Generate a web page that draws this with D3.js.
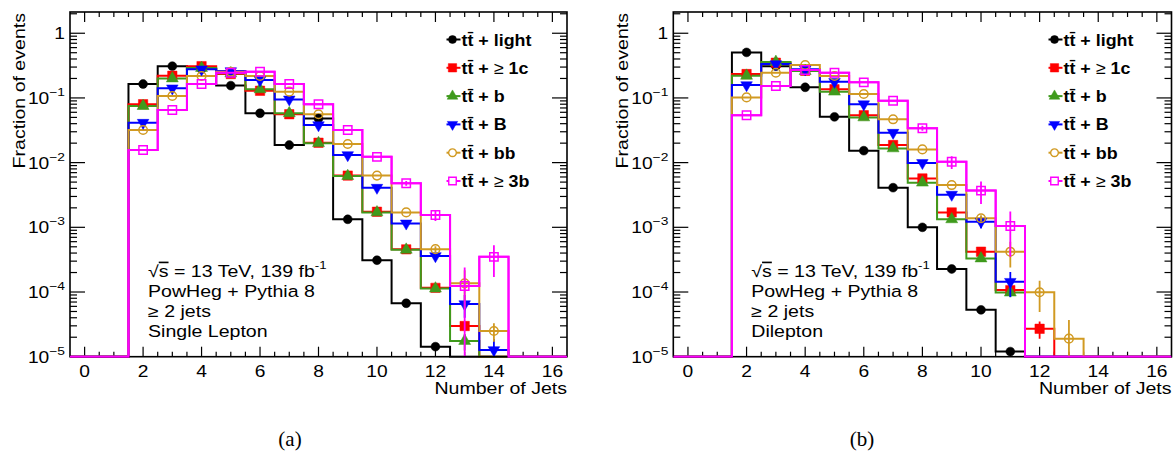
<!DOCTYPE html>
<html>
<head>
<meta charset="utf-8">
<script src="https://cdn.jsdelivr.net/npm/d3@7"></script>
<style>
  body { margin: 0; background: #fff; }
  svg { display: block; }
  text { font-family: "Liberation Sans", Arial, Helvetica, sans-serif; fill: #000; }
  text.caption { font-family: "Liberation Serif", "DejaVu Serif", serif; }
</style>
</head>
<body>
<svg id="chart" width="1176" height="452"></svg>
<script>
// ---- data: fraction of events per jet multiplicity ----
const nJets = [2, 3, 4, 5, 6, 7, 8, 9, 10, 11, 12, 13, 14];
const seriesKeys = ["light", "c", "b", "B", "bb", "3b"];
const legendLabels = ["light", "≥ 1c", "b", "B", "bb", "≥ 3b"];
const xTickValues = [0, 2, 4, 6, 8, 10, 12, 14, 16];
const yTickExponents = [0, -1, -2, -3, -4, -5];

// Single lepton channel
const slLight = [0.164, 0.31, 0.28, 0.155, 0.058, 0.0187, 0.048, 0.00133, 3.1e-4, 6.7e-5, 1.43e-5, 0, 0];
const slC     = [0.080, 0.22, 0.31, 0.234, 0.129, 0.056, 0.0203, 0.0063, 0.00174, 4.57e-4, 1.16e-4, 2.98e-5, 0];
const slB     = [0.075, 0.20, 0.29, 0.24, 0.136, 0.058, 0.0200, 0.0062, 0.0017, 4.5e-4, 1.13e-4, 1.75e-5, 0];
const slBig   = [0.0414, 0.141, 0.277, 0.26, 0.189, 0.095, 0.038, 0.0131, 0.0041, 0.00115, 3.6e-4, 6.5e-5, 1.27e-5];
const slBB    = [0.032, 0.107, 0.218, 0.254, 0.218, 0.125, 0.056, 0.0194, 0.0063, 0.0017, 4.6e-4, 1.36e-4, 2.5e-5];
const sl3b    = [0.0157, 0.065, 0.164, 0.245, 0.254, 0.164, 0.080, 0.032, 0.0123, 0.0048, 0.00155, 1.24e-4, 3.5e-4];
// statistical uncertainties (single lepton)
const slLightErr = [0, 0, 0, 0, 0, 0, 0, 0, 0, 0, 0, 0, 0];
const slCErr     = [0, 0, 0, 0, 0, 0, 0, 0, 0, 0, 0, 4e-6, 0];
const slBErr     = [0, 0, 0, 0, 0, 0, 0, 0, 0, 0, 0, 5e-6, 0];
const slBigErr   = [0, 0, 0, 0, 0, 0, 0, 0, 0, 0, 1.5e-5, 2.5e-5, 6e-6];
const slBBErr    = [0, 0, 0, 0, 0, 0, 0, 0, 0, 0, 5e-5, 8e-5, 8e-6];
const sl3bErr    = [0, 0, 0, 0, 0, 0, 0, 0, 0, 4e-4, 3e-4, 1.15e-4, 1.8e-4];

// Dilepton channel
const dlLight = [0.506, 0.31, 0.146, 0.051, 0.0153, 0.0041, 0.001, 2.27e-4, 5.3e-5, 1.2e-5, 0, 0, 0];
const dlC     = [0.234, 0.35, 0.263, 0.136, 0.054, 0.0187, 0.0057, 0.0017, 4.2e-4, 1.07e-4, 2.7e-5, 0, 0];
const dlB     = [0.22, 0.36, 0.26, 0.125, 0.050, 0.0166, 0.0049, 0.00133, 3.3e-4, 9.8e-5, 0, 0, 0];
const dlBig   = [0.158, 0.334, 0.277, 0.178, 0.080, 0.029, 0.0099, 0.0032, 0.00122, 1.44e-4, 0, 0, 0];
const dlBB    = [0.102, 0.245, 0.323, 0.218, 0.115, 0.0467, 0.016, 0.0045, 0.00138, 4.2e-4, 9.9e-5, 1.9e-5, 0];
const dl3b    = [0.054, 0.153, 0.27, 0.245, 0.174, 0.0906, 0.034, 0.0103, 0.0037, 0.00105, 0, 0, 0];
// statistical uncertainties (dilepton)
const dlLightErr = [0, 0, 0, 0, 0, 0, 0, 0, 0, 0, 0, 0, 0];
const dlCErr     = [0, 0, 0, 0, 0, 0, 0, 0, 0, 2e-5, 8e-6, 0, 0];
const dlBErr     = [0, 0, 0, 0, 0, 0, 0, 0, 0, 1.5e-5, 0, 0, 0];
const dlBigErr   = [0, 0, 0, 0, 0, 0, 0, 0, 2.5e-4, 6e-5, 0, 0, 0];
const dlBBErr    = [0, 0, 0, 0, 0, 0, 0, 0, 1.5e-4, 1.8e-4, 5e-5, 1.8e-5, 0];
const dl3bErr    = [0, 0, 0, 0, 0, 0, 0.003, 0.0023, 0.0014, 7e-4, 0, 0, 0];

const slText = ["Single Lepton"];
const dlText = ["Dilepton"];

// ---- styles ----
const colors = { light: "#000000", c: "#ff0000", b: "#3f9a1c", B: "#0000ff", bb: "#d19a22", "3b": "#ff00ff" };
const markers = {
  light: { type: d3.symbolCircle, size: 62, filled: true, rot: 0 },
  c:     { type: d3.symbolSquare, size: 88, filled: true, rot: 0 },
  b:     { type: d3.symbolTriangle, size: 62, filled: true, rot: 0 },
  B:     { type: d3.symbolTriangle, size: 58, filled: true, rot: 180 },
  bb:    { type: d3.symbolCircle, size: 58, filled: false, rot: 0 },
  "3b":  { type: d3.symbolSquare, size: 70, filled: false, rot: 0 }
};
const SX = 1.2;          // horizontal text widening
const plotTop = 12, plotBottom = 356.7;

const svg = d3.select("#chart");

function stretchedText(g, x, y, anchor, size, weight) {
  return g.append("text")
    .attr("transform", `translate(${x},${y}) scale(${SX},1)`)
    .attr("text-anchor", anchor)
    .attr("font-size", size)
    .attr("font-weight", weight || "normal");
}

function drawPanel(x0, x1, series, infoLines, legendX, caption, captionX) {
  const g = svg.append("g");
  const x = d3.scaleLinear().domain([-0.5, 16.5]).range([x0, x1]);
  const y = d3.scaleLog().domain([1e-5, 2.13]).range([plotBottom, plotTop]).clamp(true);
  const yv = v => (v > 0 ? y(v) : plotBottom);

  // tick marks (both sides, inward)
  const ticks = g.append("g").attr("stroke", "#000").attr("stroke-width", 1.2);
  for (let t = 0; t <= 16; t += 0.5) {
    const major = Math.abs(t % 2) < 1e-9;
    const len = major ? 10 : 5;
    ticks.append("line").attr("x1", x(t)).attr("x2", x(t)).attr("y1", plotBottom).attr("y2", plotBottom - len);
    ticks.append("line").attr("x1", x(t)).attr("x2", x(t)).attr("y1", plotTop).attr("y2", plotTop + len);
  }
  for (let e = -5; e <= 0; e++) {
    for (let k = 1; k <= 9; k++) {
      const v = k * Math.pow(10, e);
      if (v > 2.13 || v < 1e-5) continue;
      const len = k === 1 ? 15 : 7;
      ticks.append("line").attr("x1", x0).attr("x2", x0 + len).attr("y1", y(v)).attr("y2", y(v));
      ticks.append("line").attr("x1", x1).attr("x2", x1 - len).attr("y1", y(v)).attr("y2", y(v));
    }
  }

  // x tick labels
  xTickValues.forEach(v => {
    stretchedText(g, x(v), plotBottom + 20, "middle", 16).text(v);
  });
  // y tick labels
  yTickExponents.forEach(e => {
    const t = stretchedText(g, x0 - 5, y(Math.pow(10, e)) + 6, "end", 16);
    if (e === 0) { t.text("1"); }
    else {
      t.append("tspan").text("10");
      t.append("tspan").attr("font-size", 11.5).attr("dy", -8).text("−" + (-e));
    }
  });

  // axis titles
  stretchedText(g, x1, plotBottom + 37, "end", 16.3).text("Number of Jets");
  g.append("text")
    .attr("transform", `translate(${x0 - 45},${plotTop + 1}) rotate(-90) scale(${SX},1)`)
    .attr("text-anchor", "end").attr("font-size", 16.3)
    .text("Fraction of events");

  // histograms as step lines over the full axis range
  const edges = d3.range(0, 17);
  const lineGen = d3.line().curve(d3.curveStepAfter);
  const clipId = "clip" + Math.round(x0);
  g.append("clipPath").attr("id", clipId).append("rect")
    .attr("x", x0).attr("y", plotTop - 1).attr("width", x1 - x0).attr("height", plotBottom - plotTop + 2);
  const plot = g.append("g").attr("clip-path", `url(#${clipId})`);

  const stepPoints = s => {
    const pts = edges.map(n => {
      const i = nJets.indexOf(n);
      const v = i >= 0 ? s.values[i] : 0;
      return [x(n - 0.5), yv(v)];
    });
    pts.push([x(16.5), pts[pts.length - 1][1]]);
    return pts;
  };

  series.forEach(s => {
    plot.append("path").attr("d", lineGen(stepPoints(s)))
      .attr("fill", "none").attr("stroke", colors[s.key]).attr("stroke-width", 2);
  });

  // error bars and markers
  series.forEach(s => {
    const m = markers[s.key];
    const sym = d3.symbol().type(m.type).size(m.size);
    nJets.forEach((n, i) => {
      const v = s.values[i];
      if (!(v > 0)) return;
      const err = s.errors[i];
      if (err > 0) {
        plot.append("line")
          .attr("x1", x(n)).attr("x2", x(n))
          .attr("y1", yv(v + err)).attr("y2", v - err > 0 ? y(v - err) : plotBottom + 2)
          .attr("stroke", colors[s.key]).attr("stroke-width", 1.8);
      }
      if (y(v) >= plotBottom) return;
      plot.append("path").attr("d", sym())
        .attr("transform", `translate(${x(n)},${y(v)}) rotate(${m.rot})`)
        .attr("fill", m.filled ? colors[s.key] : "none")
        .attr("stroke", colors[s.key]).attr("stroke-width", m.filled ? 0.5 : 1.5);
    });
  });

  // frame
  g.append("rect").attr("x", x0).attr("y", plotTop).attr("width", x1 - x0).attr("height", plotBottom - plotTop)
    .attr("fill", "none").attr("stroke", "#000").attr("stroke-width", 1.6);
  // the last histogram stays on top of the frame along the bottom edge
  const lastS = series[series.length - 1];
  g.append("path").attr("d", lineGen(stepPoints(lastS))).attr("clip-path", `url(#${clipId})`)
    .attr("fill", "none").attr("stroke", colors[lastS.key]).attr("stroke-width", 2);

  // legend
  series.forEach((s, k) => {
    const ly = 39.5 + k * 28.3;
    const m = markers[s.key];
    g.append("line").attr("x1", legendX).attr("x2", legendX + 14).attr("y1", ly).attr("y2", ly)
      .attr("stroke", colors[s.key]).attr("stroke-width", 2);
    g.append("path").attr("d", d3.symbol().type(m.type).size(m.size * 0.8)())
      .attr("transform", `translate(${legendX + 6},${ly}) rotate(${m.rot})`)
      .attr("fill", m.filled ? colors[s.key] : "#fff")
      .attr("stroke", colors[s.key]).attr("stroke-width", m.filled ? 0.5 : 1.4);
    const t = g.append("text")
      .attr("transform", `translate(${legendX + 15},${ly + 6}) scale(1.05,1)`)
      .attr("font-size", 17).attr("font-weight", "bold");
    t.append("tspan").text("tt\u0304 + ");
    const lab = legendLabels[k];
    if (lab.startsWith("≥")) {
      t.append("tspan").attr("font-weight", "normal").text("≥");
      t.append("tspan").text(lab.slice(1));
    } else {
      t.append("tspan").text(lab);
    }
  });

  // info block
  const ix = x0 + 78;
  const t1 = stretchedText(g, ix, 277, "start", 16.3);
  t1.append("tspan").text("√");
  t1.append("tspan").attr("text-decoration", "overline").text("s");
  t1.append("tspan").text(" = 13 TeV, 139 fb");
  t1.append("tspan").attr("font-size", 11).attr("dy", -8).text("-1");
  stretchedText(g, ix, 297, "start", 16.3).text("PowHeg + Pythia 8");
  stretchedText(g, ix, 317, "start", 16.3).text("≥ 2 jets");
  infoLines.forEach((line, k) => stretchedText(g, ix, 337 + k * 20, "start", 16.3).text(line));

  // caption
  g.append("text").attr("class", "caption")
    .attr("x", captionX).attr("y", 446).attr("text-anchor", "middle")
    .attr("font-size", 21).text(caption);
}

const slSeries = [
  { key: "light", values: slLight, errors: slLightErr },
  { key: "c", values: slC, errors: slCErr },
  { key: "b", values: slB, errors: slBErr },
  { key: "B", values: slBig, errors: slBigErr },
  { key: "bb", values: slBB, errors: slBBErr },
  { key: "3b", values: sl3b, errors: sl3bErr }
];
const dlSeries = [
  { key: "light", values: dlLight, errors: dlLightErr },
  { key: "c", values: dlC, errors: dlCErr },
  { key: "b", values: dlB, errors: dlBErr },
  { key: "B", values: dlBig, errors: dlBigErr },
  { key: "bb", values: dlBB, errors: dlBBErr },
  { key: "3b", values: dl3b, errors: dl3bErr }
];

drawPanel(70, 567, slSeries, slText, 446.5, "(a)", 290);
drawPanel(673.3, 1171.5, dlSeries, dlText, 1048.5, "(b)", 862);
</script>
</body>
</html>
